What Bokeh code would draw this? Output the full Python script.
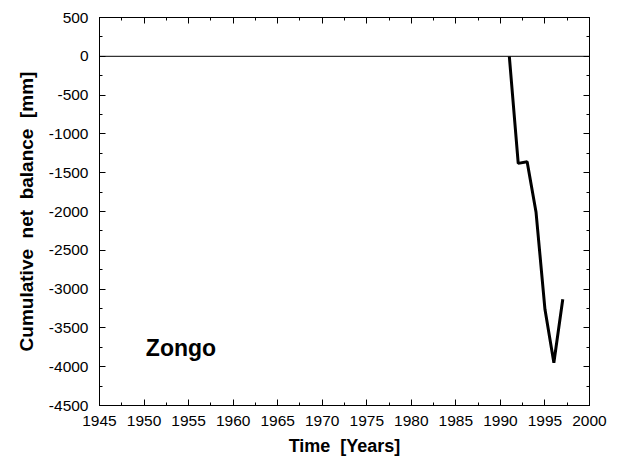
from bokeh.plotting import figure
from bokeh.models import (LinearAxis, SingleIntervalTicker, Span, Range1d, Label,
                          PrintfTickFormatter, CustomJSTickFormatter)
from bokeh.embed import file_html
from bokeh.resources import INLINE

years = [1991, 1992, 1993, 1994, 1995, 1996, 1997]
cum_balance = [0, -1380, -1360, -2010, -3260, -3950, -3130]
glacier_name = "Zongo"

FONT = "Liberation Sans"

p = figure(output_backend="svg", toolbar_location=None,
           frame_width=490, frame_height=388,
           min_border_left=99, min_border_right=22, min_border_top=17, min_border_bottom=54,
           x_range=Range1d(1945, 2000), y_range=Range1d(-4500, 500),
           x_axis_location=None, y_axis_location=None)
p.grid.visible = False
p.outline_line_color = "black"
p.outline_line_width = 1
p.background_fill_color = "white"
p.border_fill_color = "white"

def make_axis(ticker_interval, labels=True, label=None):
    ax = LinearAxis(ticker=SingleIntervalTicker(interval=ticker_interval, num_minor_ticks=2))
    ax.major_tick_in = 6
    ax.major_tick_out = 0
    ax.minor_tick_in = 3
    ax.minor_tick_out = 0
    ax.axis_line_color = "black"
    ax.major_tick_line_color = "black"
    ax.minor_tick_line_color = "black"
    if labels:
        ax.formatter = PrintfTickFormatter(format="%d")
        ax.major_label_text_font = FONT
        ax.major_label_text_font_size = "15.5px"
        ax.major_label_text_color = "black"
    else:
        ax.formatter = CustomJSTickFormatter(code="return ''")
        ax.major_label_standoff = 0
    if label:
        ax.axis_label = label
        ax.axis_label_text_font = FONT
        ax.axis_label_text_font_style = "bold"
        ax.axis_label_text_color = "black"
    return ax

xb = make_axis(5, True, "Time \u00a0[Years]")
xb.axis_label_text_font_size = "18px"
xb.major_label_standoff = 10
xb.axis_label_standoff = 7
p.add_layout(xb, "below")
xa = make_axis(5, False)
p.add_layout(xa, "above")
yl = make_axis(500, True, "Cumulative \u00a0net \u00a0balance \u00a0[mm]")
yl.axis_label_text_font_size = "19px"
yl.major_label_standoff = 11
yl.axis_label_standoff = 9
p.add_layout(yl, "left")
yr = make_axis(500, False)
p.add_layout(yr, "right")

p.add_layout(Span(location=0, dimension="width", line_color="black", line_width=1))
p.line(years, cum_balance, line_color="black", line_width=3)

p.add_layout(Label(x=1950.2, y=-3760, text=glacier_name, text_font=FONT,
                   text_font_size="23px", text_font_style="bold",
                   text_baseline="middle", text_align="left", text_color="black"))

open("out.html", "w").write(file_html(p, INLINE))
